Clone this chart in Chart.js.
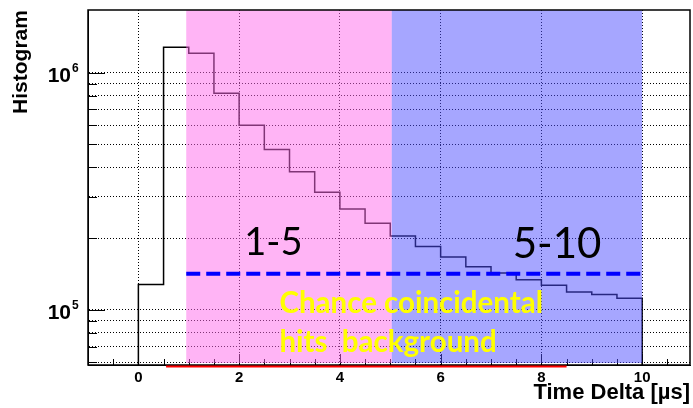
<!DOCTYPE html>
<html>
<head>
<meta charset="utf-8">
<script src="https://cdn.jsdelivr.net/npm/chart.js@4/dist/chart.umd.min.js"></script>
<style>
  html, body { margin: 0; padding: 0; background: #fff; }
</style>
</head>
<body>
<canvas id="histChart" width="693" height="408"></canvas>
<script>
// histogram bins (time delta in microseconds) and counts
var binEdges = [0, 0.5, 1, 1.5, 2, 2.5, 3, 3.5, 4, 4.5, 5, 5.5, 6, 6.5, 7, 7.5, 8, 8.5, 9, 9.5, 10];
var binCounts = [128000, 1280000, 1210000, 820000, 600000, 475000, 382000, 313000, 266000, 232000,
                 205000, 185000, 167000, 152000, 143000, 134000, 127000, 119000, 116000, 112000];

var xTickValues = [0, 2, 4, 6, 8, 10];
var xTickLabels = ["0", "2", "4", "6", "8", "10"];
var yGridValues = [60000, 70000, 80000, 90000, 100000, 200000, 300000, 400000, 500000,
                   600000, 700000, 800000, 900000, 1000000];
var yLabelValues = [100000, 1000000];
var yLabelExponents = ["5", "6"];

var xMin = -1, xMax = 10.95;
var yMin = 58500, yMax = 1840000;

// shaded time windows
var regionNames = ["1-5", "5-10"];
var regionFrom = [0.95, 5.03];
var regionTo = [5.03, 10];

// chance coincidence level
var backgroundLevel = 142000;
var backgroundFrom = 0.95;
var backgroundTo = 10;
var redLineFrom = 0.55;
var redLineTo = 8.5;

var histPoints = [{ x: binEdges[0], y: yMin }];
binCounts.forEach(function(c, i) {
    histPoints.push({ x: binEdges[i], y: c });
    histPoints.push({ x: binEdges[i + 1], y: c });
});
histPoints.push({ x: binEdges[binEdges.length - 1], y: yMin });

var helv = '"Liberation Sans", Arial, sans-serif';

var decorPlugin = {
    id: "decor",
    afterDatasetsDraw: function(chart) {
        var ctx = chart.ctx;
        var area = chart.chartArea;
        var xs = chart.scales.x;
        var ys = chart.scales.y;

        ctx.save();
        // inward tick marks
        ctx.strokeStyle = "#000";
        ctx.lineWidth = 1;
        ctx.beginPath();
        yGridValues.forEach(function(v) {
            var py = Math.round(ys.getPixelForValue(v)) + 0.5;
            var len = yLabelValues.indexOf(v) >= 0 ? 17 : 9;
            ctx.moveTo(area.left, py);
            ctx.lineTo(area.left + len, py);
        });
        for (var t = -0.5; t <= 10.5; t += 0.5) {
            var px = Math.round(xs.getPixelForValue(t)) + 0.5;
            var l = xTickValues.indexOf(t) >= 0 ? 11 : 6;
            ctx.moveTo(px, area.bottom);
            ctx.lineTo(px, area.bottom - l);
        }
        ctx.stroke();

        // shaded windows
        var fills = ["rgba(255,105,235,0.5)", "rgba(77,77,255,0.5)"];
        regionNames.forEach(function(name, i) {
            var x1 = xs.getPixelForValue(regionFrom[i]);
            var x2 = xs.getPixelForValue(regionTo[i]);
            ctx.fillStyle = fills[i];
            ctx.fillRect(x1, area.top, x2 - x1, area.bottom - 2 - area.top);
        });

        // frame
        ctx.strokeStyle = "#000";
        ctx.lineWidth = 1.5;
        ctx.strokeRect(area.left, area.top, area.right - area.left, area.bottom - area.top);

        // dashed background level
        ctx.strokeStyle = "#0000ff";
        ctx.lineWidth = 4;
        ctx.setLineDash([14, 6]);
        ctx.beginPath();
        var by = ys.getPixelForValue(backgroundLevel);
        ctx.moveTo(xs.getPixelForValue(backgroundFrom), by);
        ctx.lineTo(xs.getPixelForValue(backgroundTo), by);
        ctx.stroke();
        ctx.setLineDash([]);

        // red line along the bottom
        ctx.strokeStyle = "#ff0000";
        ctx.lineWidth = 2;
        ctx.beginPath();
        ctx.moveTo(xs.getPixelForValue(redLineFrom), area.bottom + 1.5);
        ctx.lineTo(xs.getPixelForValue(redLineTo), area.bottom + 1.5);
        ctx.stroke();

        // window labels
        ctx.fillStyle = "#000";
        ctx.textAlign = "center";
        ctx.textBaseline = "alphabetic";
        ctx.font = '38px Lato, "Open Sans", sans-serif';
        ctx.fillText(regionNames[0], xs.getPixelForValue(2.68), ys.getPixelForValue(170000));
        ctx.font = '42px Lato, "Open Sans", sans-serif';
        ctx.fillText(regionNames[1], xs.getPixelForValue(8.31), ys.getPixelForValue(165000));

        ctx.fillStyle = "#ffff00";
        ctx.textAlign = "left";
        ctx.font = 'bold 29.5px Lato, "Open Sans", sans-serif';
        ctx.fillText("Chance coincidental", xs.getPixelForValue(2.8), ys.getPixelForValue(97000));
        ctx.fillText("hits  background", xs.getPixelForValue(2.8), ys.getPixelForValue(66300));

        // axis labels
        ctx.fillStyle = "#000";
        ctx.font = "bold 15px " + helv;
        ctx.textAlign = "center";
        xTickValues.forEach(function(v, i) {
            ctx.fillText(xTickLabels[i], xs.getPixelForValue(v), area.bottom + 17);
        });
        yLabelValues.forEach(function(v, i) {
            var py = ys.getPixelForValue(v);
            ctx.textAlign = "right";
            ctx.font = "bold 21px " + helv;
            ctx.fillText("10", 71, py + 9);
            ctx.textAlign = "left";
            ctx.font = "bold 12px " + helv;
            ctx.fillText(yLabelExponents[i], 72, py - 1);
        });

        ctx.font = "bold 22px " + helv;
        ctx.textAlign = "right";
        ctx.fillText("Time Delta [\u00b5s]", 690, 399);

        ctx.translate(27, 62);
        ctx.rotate(-Math.PI / 2);
        ctx.textAlign = "center";
        ctx.font = "bold 21px " + helv;
        ctx.fillText("Histogram", 0, 0);
        ctx.restore();
    }
};

var chart = new Chart(document.getElementById("histChart").getContext("2d"), {
    type: "line",
    data: {
        datasets: [{
            data: histPoints,
            borderColor: "#000",
            borderWidth: 1.5,
            pointRadius: 0,
            fill: false,
            tension: 0
        }]
    },
    options: {
        responsive: false,
        animation: false,
        devicePixelRatio: 1,
        layout: { padding: { left: 88, right: 3, top: 10, bottom: 43 } },
        plugins: { legend: { display: false }, tooltip: { enabled: false } },
        scales: {
            x: {
                type: "linear",
                min: xMin,
                max: xMax,
                afterBuildTicks: function(scale) {
                    scale.ticks = xTickValues.map(function(v) { return { value: v }; });
                },
                ticks: { display: false },
                grid: { color: "#000", lineWidth: 1, drawTicks: false },
                border: { display: true, color: "#000", dash: [1, 2] }
            },
            y: {
                type: "logarithmic",
                min: yMin,
                max: yMax,
                afterBuildTicks: function(scale) {
                    scale.ticks = yGridValues.map(function(v) { return { value: v }; });
                },
                ticks: { display: false },
                grid: { color: "#000", lineWidth: 1, drawTicks: false },
                border: { display: true, color: "#000", dash: [1, 2] }
            }
        }
    },
    plugins: [decorPlugin]
});
</script>
</body>
</html>
